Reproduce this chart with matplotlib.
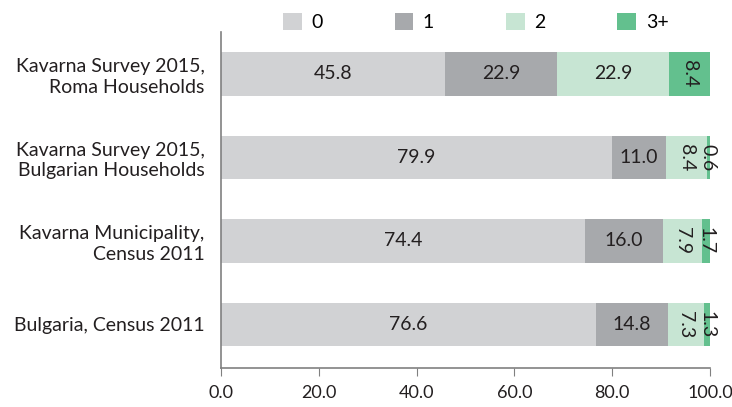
import numpy as np
import matplotlib.pyplot as plt

plt.rcParams['font.family'] = ['Lato', 'DejaVu Sans']

categories = ["Kavarna Survey 2015,\nRoma Households",
              "Kavarna Survey 2015,\nBulgarian Households",
              "Kavarna Municipality,\nCensus 2011",
              "Bulgaria, Census 2011"]
series_names = ["0", "1", "2", "3+"]
values = {
    "0": [45.8, 79.9, 74.4, 76.6],
    "1": [22.9, 11.0, 16.0, 14.8],
    "2": [22.9, 8.4, 7.9, 7.3],
    "3+": [8.4, 0.6, 1.7, 1.3],
}
colors = ["#D1D2D4", "#A7A9AC", "#C7E5D3", "#63C08E"]
rotated = {"0": [False] * 4, "1": [False] * 4,
           "2": [False, True, True, True], "3+": [True] * 4}

fs = 14
fig = plt.figure(figsize=(7.32, 4.07), dpi=100)
ax = fig.add_axes([0.302, 0.096, 0.668, 0.825])

y = np.arange(len(categories))
left = np.zeros(len(categories))
for name, col in zip(series_names, colors):
    vals = np.array(values[name])
    bars = ax.barh(y, vals, left=left, height=0.52, color=col, label=name)
    for i, v in enumerate(vals):
        cx = left[i] + v / 2
        rot = -90 if rotated[name][i] else 0
        ax.text(cx, y[i], f"{v:.1f}", rotation=rot, ha='center', va='center',
                fontsize=fs, color='#231F20')
    left += vals

ax.set_ylim(3.52, -0.5)
ax.set_xlim(0, 100)
ax.set_xticks(np.arange(0, 101, 20))
ax.set_xticklabels([f"{t:.1f}" for t in np.arange(0, 101, 20)], fontsize=13, color='#231F20')
ax.set_yticks(y)
ax.set_yticklabels(categories, fontsize=fs, color='#231F20', ha='right',
                   linespacing=1.25)
ax.tick_params(axis='y', length=0, pad=12)
ax.tick_params(axis='x', length=6, color='#808080', direction='out', pad=6)
for s in ['top', 'right']:
    ax.spines[s].set_visible(False)
for s in ['left', 'bottom']:
    ax.spines[s].set_color('#808080')
    ax.spines[s].set_linewidth(1.2)

fig.legend(loc='center', bbox_to_anchor=(0.65, 0.945), ncol=4, frameon=False,
           fontsize=fs, handlelength=0.95, handleheight=0.95, handletextpad=0.5,
           columnspacing=3.7)

fig.savefig("out.png", dpi=100)
